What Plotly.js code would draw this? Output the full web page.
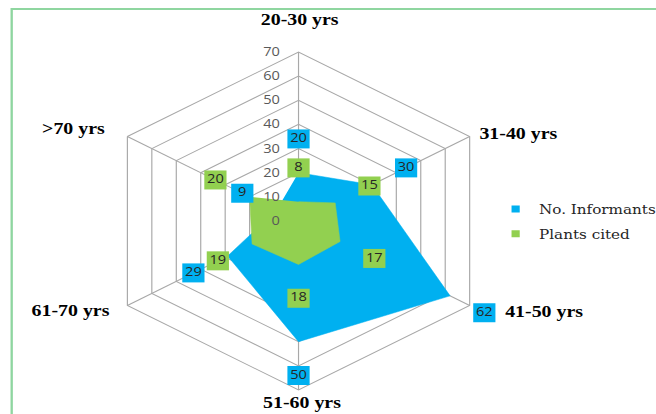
<!DOCTYPE html>
<html><head><meta charset="utf-8">
<script src="https://cdn.plot.ly/plotly-3.0.1.min.js"></script>
<style>
html,body{margin:0;padding:0;overflow:hidden;background:#fff;width:656px;height:414px;}
#chart{width:561px;height:414px;transform:scaleX(1.1693);transform-origin:0 0;}
</style></head><body>
<div id="chart"></div>
<script>
// ---- data ----
const categories = ['20-30 yrs', '31-40 yrs', '41-50 yrs', '51-60 yrs', '61-70 yrs', '>70 yrs'];
const informants = [20, 30, 62, 50, 29, 9];
const plantsCited = [8, 15, 17, 18, 19, 20];
const seriesNames = ['No. Informants', 'Plants cited'];
const radialTickValues = [0, 10, 20, 30, 40, 50, 60, 70];

// ---- style / geometry (pixels of the 561-wide, un-stretched canvas) ----
const W = 561, H = 414;
const BLUE = '#00B0F0', GREEN = '#92D050', GRID = '#a8a8a8';
const LABEL_OFFSET = 14;           // data labels sit outward of their point (Excel outside-end style)
const RMAX = 70, RMAX_LABELS = 78; // label layer uses a slightly longer radial range so outer labels fit
const CX = 255.3, CY = 221, RADIUS = 169;
function domainFor(rad) {
  return {x: [(CX - rad) / W, (CX + rad) / W], y: [1 - (CY + rad) / H, 1 - (CY - rad) / H]};
}
const DOMAIN = domainFor(RADIUS);
const DOMAIN2 = domainFor(RADIUS * RMAX_LABELS / RMAX);
// where each category name is written (paper coords), in category order
const categoryLabelPos = [
  {x: 0.4574, y: 0.9517, xanchor: 'center'},
  {x: 0.7271, y: 0.6787, xanchor: 'left'},
  {x: 0.7668, y: 0.2464, xanchor: 'left'},
  {x: 0.4604, y: 0.0266, xanchor: 'center'},
  {x: 0.1705, y: 0.2488, xanchor: 'right'},
  {x: 0.1636, y: 0.6908, xanchor: 'right'}
];

function fillTrace(vals, color) {
  return {type: 'scatterpolar', subplot: 'polar', r: vals, theta: categories,
    mode: 'lines', fill: 'toself', fillcolor: color, line: {color: color, width: 0.5},
    showlegend: false, hoverinfo: 'skip'};
}
function labelTrace(vals, color) {
  return {type: 'scatterpolar', subplot: 'polar2', r: vals.map(v => v + LABEL_OFFSET), theta: categories,
    mode: 'markers+text', text: vals.map(String), textposition: 'middle center',
    textfont: {family: 'Open Sans', size: 12.5, color: '#262626'},
    marker: {symbol: 'square', size: 19, color: color}, cliponaxis: false,
    showlegend: false, hoverinfo: 'skip'};
}
function legendTrace(name, color, grp) {
  return {type: 'scatterpolar', subplot: 'polar2', r: [null], theta: [null], mode: 'markers',
    name: name, legendgroup: grp, marker: {symbol: 'square', size: 7, color: color}};
}

const data = [
  fillTrace(informants, BLUE),
  fillTrace(plantsCited, GREEN),
  labelTrace(informants, BLUE),
  labelTrace(plantsCited, GREEN),
  legendTrace(seriesNames[0], BLUE, 'a'),
  legendTrace(seriesNames[1], GREEN, 'b')
];

const angularBase = {type: 'category', categoryarray: categories, rotation: 90, direction: 'clockwise'};

const layout = {
  width: W, height: H,
  margin: {l: 0, r: 0, t: 0, b: 0, autoexpand: false},
  paper_bgcolor: '#ffffff',
  showlegend: true,
  legend: {x: 0.7504, y: 0.465, xanchor: 'left', yanchor: 'middle',
    tracegroupgap: 5, font: {family: 'DejaVu Serif', size: 13, color: '#262626'}, bgcolor: 'rgba(0,0,0,0)'},
  polar: {
    domain: DOMAIN, gridshape: 'linear', bgcolor: 'rgba(0,0,0,0)',
    angularaxis: Object.assign({}, angularBase, {
      showgrid: true, gridcolor: GRID, gridwidth: 1, showline: true, linecolor: GRID, linewidth: 1,
      ticks: '', showticklabels: false, layer: 'above traces'}),
    radialaxis: {range: [0, RMAX], tickvals: radialTickValues, angle: 90, showgrid: true, gridcolor: GRID,
      gridwidth: 1, showline: false, showticklabels: false, ticks: '', layer: 'below traces'}
  },
  polar2: {
    domain: DOMAIN2, gridshape: 'linear', bgcolor: 'rgba(0,0,0,0)',
    angularaxis: Object.assign({}, angularBase, {
      showgrid: false, showline: false, showticklabels: false, ticks: ''}),
    radialaxis: {range: [0, RMAX_LABELS], tickvals: radialTickValues, angle: 90, side: 'counterclockwise',
      showgrid: false, showline: false, ticks: 'outside', ticklen: 11, tickcolor: 'rgba(0,0,0,0)',
      tickangle: 90, tickfont: {family: 'Open Sans', size: 12.5, color: '#595959'}, layer: 'above traces'}
  },
  annotations: categories.map((c, i) => ({
    text: c, xref: 'paper', yref: 'paper', x: categoryLabelPos[i].x, y: categoryLabelPos[i].y,
    xanchor: categoryLabelPos[i].xanchor, yanchor: 'middle', showarrow: false,
    font: {family: 'Liberation Serif', size: 17, color: '#000', weight: 'bold'}
  })),
  shapes: [{type: 'rect', xref: 'paper', yref: 'paper', x0: 10 / W, x1: 1.3, y0: -0.3, y1: 1 - 9 / H,
    line: {color: '#8fd6a0', width: 2}, fillcolor: 'rgba(0,0,0,0)', layer: 'below'}]
};

Plotly.newPlot('chart', data, layout, {staticPlot: true, displayModeBar: false});
</script>
</body></html>
